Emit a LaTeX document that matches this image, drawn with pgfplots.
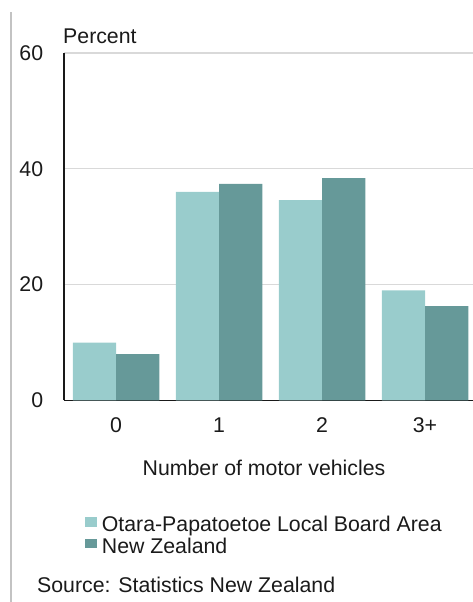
\documentclass[border=0pt]{standalone}
\usepackage{pgfplots}
\pgfplotsset{compat=1.18}
\usepackage{fontspec}
\setmainfont{Liberation Sans}
\definecolor{lightteal}{HTML}{99CCCC}
\definecolor{darkteal}{HTML}{669999}
\definecolor{gridgray}{HTML}{D9D9D9}
\definecolor{txt}{HTML}{1A1A1A}
\newcommand{\myfont}{\fontsize{21.3bp}{25bp}\selectfont}
\begin{document}
\begin{tikzpicture}[x=1bp,y=1bp,font=\myfont,text=txt]
\path[use as bounding box] (0,0) rectangle (473,602);
\draw[color=gridgray!90!black, line width=1.3bp] (11,0) -- (11,590);
\begin{axis}[
  at={(64bp,201.5bp)}, anchor=south west,
  scale only axis, width=409bp, height=347.5bp,
  xmin=-0.505, xmax=3.466, ymin=0, ymax=60,
  ybar=0pt, bar width=0.42,
  axis x line*=bottom, axis y line*=left,
  axis line style={line width=1.5bp, draw=black!90, -},
  ytick={0,20,40,60},
  xtick={0,1,2,3}, xticklabels={0,1,2,3+},
  major tick length=0pt,
  ymajorgrids, grid style={gridgray, line width=1.3bp},
  tick label style={font=\myfont, text=txt},
  /pgf/number format/assume math mode=true,
  yticklabel style={anchor=east, inner sep=0pt, xshift=-20.7bp},
  xticklabel style={anchor=north, inner sep=0pt, yshift=-17bp},
  clip=false,
  legend style={font=\myfont, draw=none, fill=none, inner sep=0pt,
    at={(axis description cs:0.0513,-0.3344)}, anchor=north west,
    nodes={inner sep=0pt, text height=15bp, text depth=4.5bp, text=txt},
    row sep=2.1bp, column sep=4.7bp},
  legend cell align=left,
  legend image code/.code={\fill[#1] (0bp,0bp) rectangle (12bp,9.5bp);},
]
\addplot[fill=lightteal, draw=none] coordinates {(0,10.0) (1,36.0) (2,34.6) (3,19.0)};
\addplot[fill=darkteal, draw=none] coordinates {(0,8.0) (1,37.4) (2,38.4) (3,16.3)};
\legend{Otara-Papatoetoe Local Board Area, New Zealand}
\end{axis}
\node[anchor=base west, inner sep=0pt] at (63,558) {Percent};
\node[anchor=base, inner sep=0pt] at (264,126) {Number of motor vehicles};
\node[anchor=base west, inner sep=0pt] at (37,9.7) {Source: Statistics New Zealand};
\end{tikzpicture}
\end{document}
